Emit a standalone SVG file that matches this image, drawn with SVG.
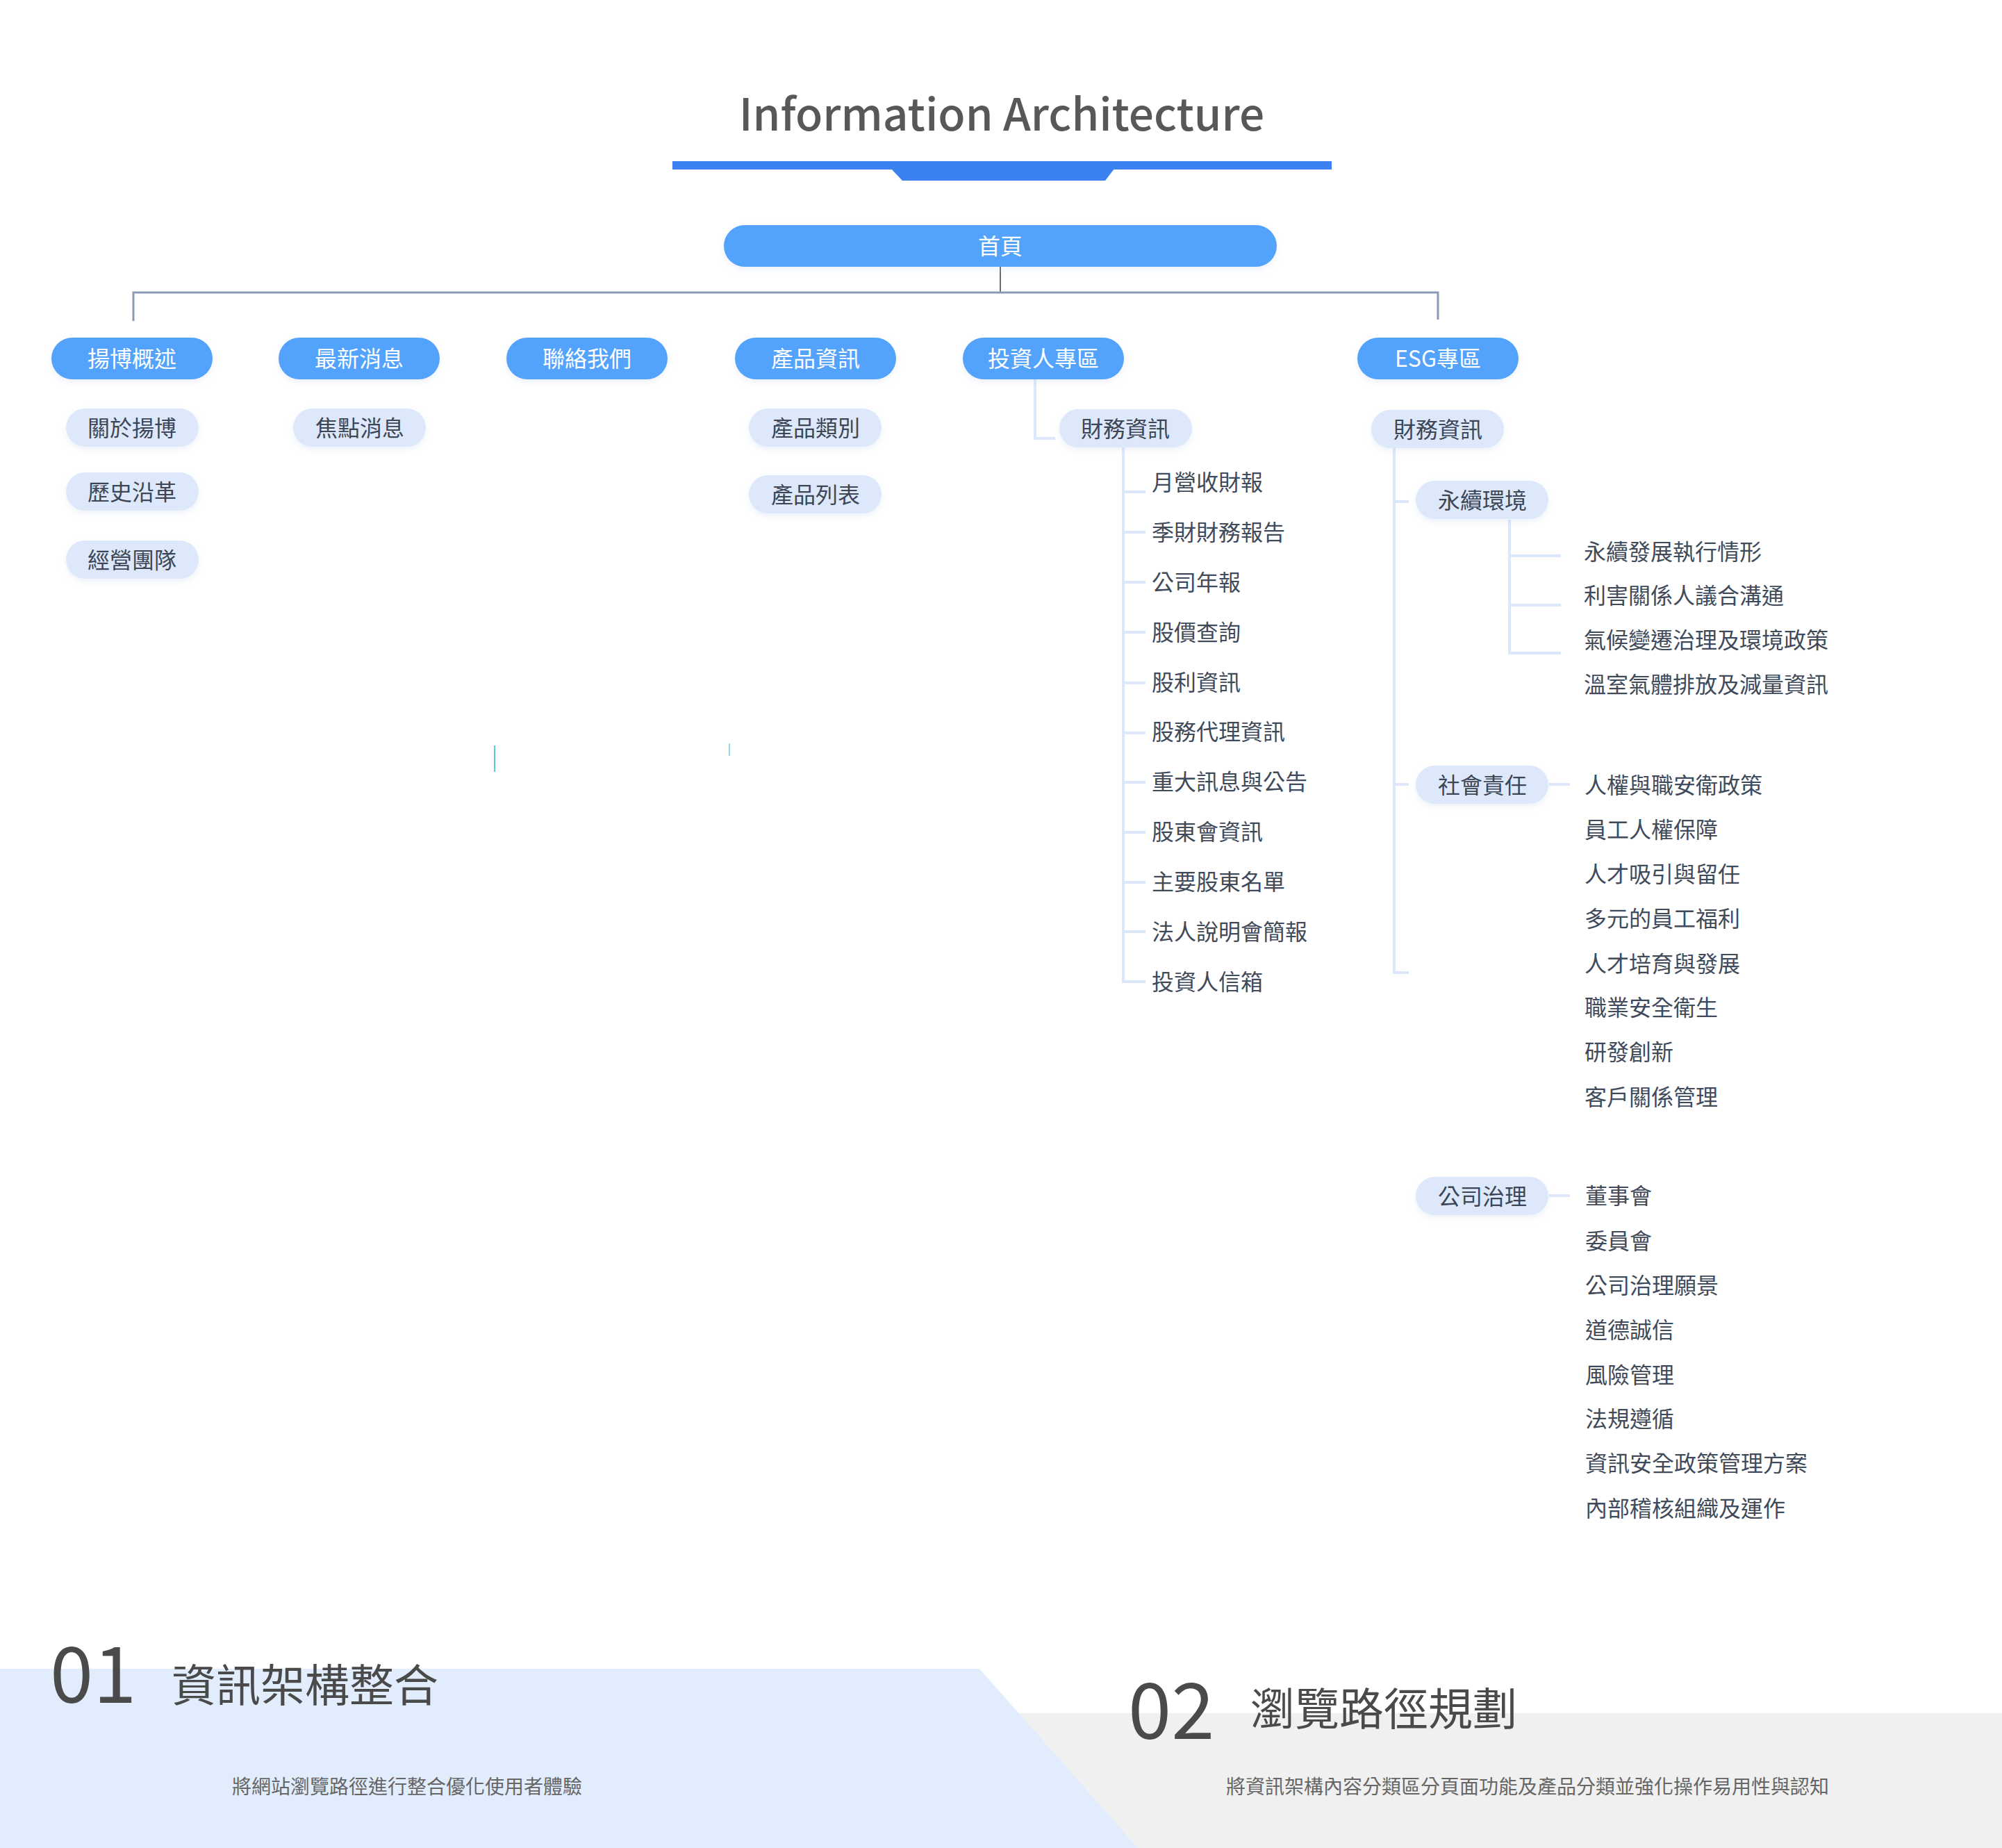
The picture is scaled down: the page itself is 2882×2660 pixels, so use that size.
<svg xmlns="http://www.w3.org/2000/svg" width="2882" height="2660" viewBox="0 0 2882 2660">
<defs>
<filter id="sh" x="-10%" y="-30%" width="120%" height="170%">
<feDropShadow dx="0" dy="4" stdDeviation="4" flood-color="#8aa6d0" flood-opacity="0.15"/>
</filter>
<style>
text{font-family:"Noto Sans CJK TC","Noto Sans CJK SC",sans-serif;}
.pb{fill:#52A2FC;filter:url(#sh);}
.pl{fill:#DDE9FB;filter:url(#sh);}
.tw{fill:#ffffff;font-size:32px;text-anchor:middle;}
.td{fill:#3C4656;font-size:32px;text-anchor:middle;}
.it{fill:#3F4A5A;font-size:32px;}
.c1{fill:none;stroke:#8C9BB5;stroke-width:3;}
.c0{fill:none;stroke:#6b6f78;stroke-width:2;}
.cl{fill:none;stroke:#DCE8FA;stroke-width:4;}
.big{fill:#4A4A4A;font-size:64px;}
.num{fill:#4A4A4A;font-size:112px;font-weight:400;}
.sub{fill:#666666;font-size:28px;}
</style>
</defs>
<rect width="2882" height="2660" fill="#ffffff"/>

<!-- header -->
<g id="title">
<text x="1442" y="188" text-anchor="middle" style="font-size:64px;font-weight:500;fill:#585858;">Information Architecture</text>
<rect x="968" y="232" width="949" height="12" fill="#3B82F0"/>
<polygon points="1283,243 1604,243 1591,260 1299,260" fill="#3B82F0"/>
</g>

<!-- connectors -->
<g id="connectors">
<path class="c0" d="M1440,384 V421"/>
<path class="c1" d="M192,462 V421 H2070 V460"/>
<path class="cl" d="M1490,546 V631 H1519"/>
<path class="cl" d="M1617,644 V1413 H1649"/>
<path class="cl" d="M1617,708 H1649 M1617,766 H1649 M1617,838 H1649 M1617,910 H1649 M1617,983 H1649 M1617,1055 H1649 M1617,1126 H1649 M1617,1198 H1649 M1617,1270 H1649 M1617,1341 H1649"/>
<path class="cl" d="M2007,645 V1400 H2028 M2007,722 H2028 M2007,1129 H2028"/>
<path class="cl" d="M2173,748 V940 H2247 M2173,800 H2247 M2173,871 H2247"/>
<path class="cl" d="M2230,1129 H2260 M2230,1721 H2260"/>
<line x1="712" y1="1073" x2="712" y2="1111" stroke="#5BC9D9" stroke-width="2"/>
<line x1="1050" y1="1070" x2="1050" y2="1088" stroke="#94DDE8" stroke-width="2"/>
</g>

<!-- root -->
<g id="n-home"><rect class="pb" x="1042" y="324" width="796" height="60" rx="30"/><text class="tw" x="1440" y="366">首頁</text></g>

<!-- level 1 -->
<g id="n-about"><rect class="pb" x="74" y="486" width="232" height="60" rx="30"/><text class="tw" x="190" y="528">揚博概述</text></g>
<g id="n-news"><rect class="pb" x="401" y="486" width="232" height="60" rx="30"/><text class="tw" x="517" y="528">最新消息</text></g>
<g id="n-contact"><rect class="pb" x="729" y="486" width="232" height="60" rx="30"/><text class="tw" x="845" y="528">聯絡我們</text></g>
<g id="n-product"><rect class="pb" x="1058" y="486" width="232" height="60" rx="30"/><text class="tw" x="1174" y="528">產品資訊</text></g>
<g id="n-investor"><rect class="pb" x="1386" y="486" width="232" height="60" rx="30"/><text class="tw" x="1502" y="528">投資人專區</text></g>
<g id="n-esg"><rect class="pb" x="1954" y="486" width="232" height="60" rx="30"/><text class="tw" x="2070" y="528">ESG專區</text></g>

<!-- level 2 -->
<g id="n-about-1"><rect class="pl" x="95" y="588" width="191" height="55" rx="27.5"/><text class="td" x="190" y="628">關於揚博</text></g>
<g id="n-about-2"><rect class="pl" x="95" y="680" width="191" height="55" rx="27.5"/><text class="td" x="190" y="720">歷史沿革</text></g>
<g id="n-about-3"><rect class="pl" x="95" y="778" width="191" height="55" rx="27.5"/><text class="td" x="190" y="818">經營團隊</text></g>
<g id="n-news-1"><rect class="pl" x="422" y="588" width="191" height="55" rx="27.5"/><text class="td" x="518" y="628">焦點消息</text></g>
<g id="n-prod-1"><rect class="pl" x="1078" y="588" width="191" height="55" rx="27.5"/><text class="td" x="1174" y="628">產品類別</text></g>
<g id="n-prod-2"><rect class="pl" x="1078" y="684" width="191" height="55" rx="27.5"/><text class="td" x="1174" y="724">產品列表</text></g>
<g id="n-inv-fin"><rect class="pl" x="1525" y="589" width="191" height="55" rx="27.5"/><text class="td" x="1620" y="629">財務資訊</text></g>
<g id="n-esg-fin"><rect class="pl" x="1974" y="590" width="191" height="55" rx="27.5"/><text class="td" x="2070" y="630">財務資訊</text></g>
<g id="n-esg-env"><rect class="pl" x="2038" y="692" width="191" height="55" rx="27.5"/><text class="td" x="2134" y="732">永續環境</text></g>
<g id="n-esg-soc"><rect class="pl" x="2038" y="1102" width="191" height="55" rx="27.5"/><text class="td" x="2134" y="1142">社會責任</text></g>
<g id="n-esg-gov"><rect class="pl" x="2038" y="1694" width="191" height="55" rx="27.5"/><text class="td" x="2134" y="1734">公司治理</text></g>

<!-- investor list -->
<g id="n-inv-items">
<text class="it" x="1658" y="706">月營收財報</text>
<text class="it" x="1658" y="778">季財財務報告</text>
<text class="it" x="1658" y="850">公司年報</text>
<text class="it" x="1658" y="922">股價查詢</text>
<text class="it" x="1658" y="994">股利資訊</text>
<text class="it" x="1658" y="1065">股務代理資訊</text>
<text class="it" x="1658" y="1137">重大訊息與公告</text>
<text class="it" x="1658" y="1209">股東會資訊</text>
<text class="it" x="1658" y="1281">主要股東名單</text>
<text class="it" x="1658" y="1353">法人說明會簡報</text>
<text class="it" x="1658" y="1425">投資人信箱</text>
</g>

<g id="n-env-items">
<text class="it" x="2280" y="806">永續發展執行情形</text>
<text class="it" x="2280" y="869">利害關係人議合溝通</text>
<text class="it" x="2280" y="933">氣候變遷治理及環境政策</text>
<text class="it" x="2280" y="997">溫室氣體排放及減量資訊</text>
</g>

<g id="n-soc-items">
<text class="it" x="2281" y="1142">人權與職安衛政策</text>
<text class="it" x="2281" y="1206">員工人權保障</text>
<text class="it" x="2281" y="1270">人才吸引與留任</text>
<text class="it" x="2281" y="1334">多元的員工福利</text>
<text class="it" x="2281" y="1399">人才培育與發展</text>
<text class="it" x="2281" y="1462">職業安全衛生</text>
<text class="it" x="2281" y="1526">研發創新</text>
<text class="it" x="2281" y="1591">客戶關係管理</text>
</g>

<g id="n-gov-items">
<text class="it" x="2282" y="1733">董事會</text>
<text class="it" x="2282" y="1798">委員會</text>
<text class="it" x="2282" y="1862">公司治理願景</text>
<text class="it" x="2282" y="1926">道德誠信</text>
<text class="it" x="2282" y="1991">風險管理</text>
<text class="it" x="2282" y="2054">法規遵循</text>
<text class="it" x="2282" y="2118">資訊安全政策管理方案</text>
<text class="it" x="2282" y="2183">內部稽核組織及運作</text>
</g>

<!-- bottom panels -->
<g id="bottom">
<rect x="1400" y="2466" width="1482" height="194" fill="#F0F0F0"/>
<polygon points="0,2402 1410,2402 1638,2660 0,2660" fill="#E1EDFD"/>
<text class="num" x="72" y="2451">01</text>
<text class="big" x="247" y="2449">資訊架構整合</text>
<text class="sub" x="334" y="2582">將網站瀏覽路徑進行整合優化使用者體驗</text>
<text class="num" x="1624" y="2503">02</text>
<text class="big" x="1800" y="2483">瀏覽路徑規劃</text>
<text class="sub" x="1765" y="2582">將資訊架構內容分類區分頁面功能及產品分類並強化操作易用性與認知</text>
</g>
</svg>
